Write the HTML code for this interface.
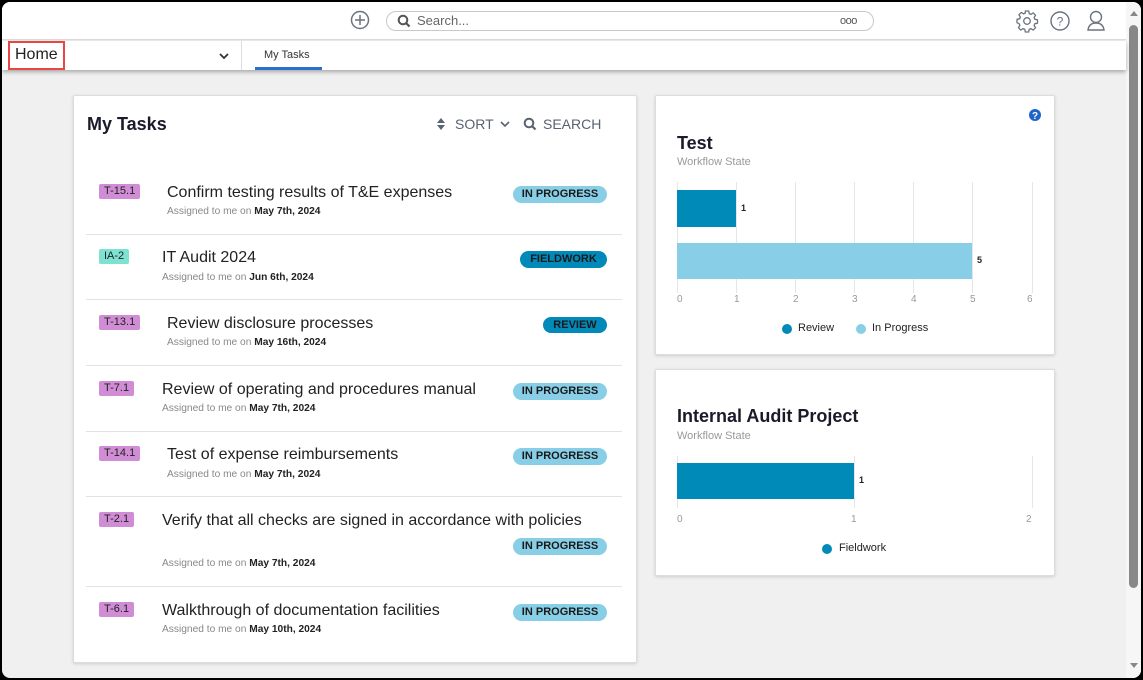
<!DOCTYPE html>
<html><head><meta charset="utf-8">
<style>
*{margin:0;padding:0;box-sizing:border-box}
html,body{width:1143px;height:680px;overflow:hidden;background:#000;font-family:"Liberation Sans",sans-serif}
#frame{position:absolute;left:2px;top:2px;width:1139px;height:676px;background:#f0f0f0;border-radius:8px;overflow:hidden}
.a{position:absolute}
.top{left:0;top:0;width:1124px;height:38px;background:#fff;border-bottom:1px solid #ddd}
.bar2{left:0;top:39px;width:1124px;height:29px;background:#fff;box-shadow:0 2px 4px rgba(0,0,0,0.3)}
.card{background:#fff;border:1px solid #ddd;box-shadow:0 1px 3px rgba(0,0,0,0.15);border-radius:2px}
.badge{position:absolute;height:15px;border-radius:2px;background:#d08cd4;font-size:11px;color:#222;line-height:15px;padding:0 5px}
.title{position:absolute;font-size:16px;color:#222;white-space:nowrap;line-height:20px}
.sub{position:absolute;font-size:10.2px;color:#888;white-space:nowrap}
.sub b{color:#222}
.pill{position:absolute;height:17px;border-radius:9px;font-size:11px;font-weight:bold;color:#1a1a1a;text-align:center;line-height:17px}
.ip{background:#87cee6;width:94px}
.sep{position:absolute;left:12px;width:536px;height:1px;background:#e2e2e2}
.tick{position:absolute;font-size:10px;color:#999}
.grid{position:absolute;width:1px;background:#e6e6e6}
</style></head><body>
<div id="frame">
  <div class="a top"></div>
  <!-- plus icon -->
  <svg class="a" style="left:348px;top:8px" width="20" height="20"><circle cx="10" cy="10" r="8.5" fill="none" stroke="#6a7380" stroke-width="1.5"/><line x1="10" y1="5" x2="10" y2="15" stroke="#6a7380" stroke-width="1.5"/><line x1="5" y1="10" x2="15" y2="10" stroke="#6a7380" stroke-width="1.5"/></svg>
  <div class="a" style="left:384px;top:9px;width:488px;height:20px;border:1px solid #c8c8c8;border-radius:10px;background:#fff"></div>
  <svg class="a" style="left:395px;top:12px" width="14" height="14"><circle cx="6" cy="6" r="4.3" fill="none" stroke="#555" stroke-width="2"/><line x1="9" y1="9" x2="12.5" y2="12.5" stroke="#555" stroke-width="2.2"/></svg>
  <div class="a" style="left:415px;top:11px;font-size:13px;color:#666">Search...</div>
  <div class="a" style="left:838px;top:13px;font-size:11px;color:#555;letter-spacing:-0.5px">ooo</div>
  <!-- right icons -->
  <svg class="a" style="left:1013px;top:7px" width="24" height="24" viewBox="0 0 24 24"><path d="M10.3 2h3.4l.5 2.6 1.8.8 2.2-1.5 2.4 2.4-1.5 2.2.8 1.8 2.6.5v3.4l-2.6.5-.8 1.8 1.5 2.2-2.4 2.4-2.2-1.5-1.8.8-.5 2.6h-3.4l-.5-2.6-1.8-.8-2.2 1.5-2.4-2.4 1.5-2.2-.8-1.8L2 13.7v-3.4l2.6-.5.8-1.8-1.5-2.2 2.4-2.4 2.2 1.5 1.8-.8z" fill="none" stroke="#6a7380" stroke-width="1.3" stroke-linejoin="round"/><circle cx="12" cy="12" r="3.3" fill="none" stroke="#6a7380" stroke-width="1.3"/></svg>
  <svg class="a" style="left:1047px;top:8px" width="22" height="22"><circle cx="11" cy="11" r="9" fill="none" stroke="#6a7380" stroke-width="1.4"/><text x="11" y="15.5" font-size="12" text-anchor="middle" fill="#6a7380" font-family="Liberation Sans">?</text></svg>
  <svg class="a" style="left:1084px;top:7px" width="20" height="24"><circle cx="10" cy="8" r="5.5" fill="none" stroke="#6a7380" stroke-width="1.4"/><path d="M2 21 Q3 14 10 14 Q17 14 18 21 Z" fill="none" stroke="#6a7380" stroke-width="1.4"/></svg>
  <!-- scrollbar -->
  <div class="a" style="left:1124px;top:0;width:15px;height:676px;background:#f6f6f6"></div>
  <div class="a" style="left:1127px;top:23px;width:9px;height:563px;background:#888;border-radius:5px"></div>
  <div class="a" style="left:1128px;top:9px;width:0;height:0;border-left:4px solid transparent;border-right:4px solid transparent;border-bottom:5px solid #888"></div>
  <div class="a" style="left:1128px;top:661px;width:0;height:0;border-left:4px solid transparent;border-right:4px solid transparent;border-top:5px solid #888"></div>

  <div class="a bar2"></div>
  <div class="a" style="left:6px;top:39px;width:57px;height:29px;border:2px solid #e84545"></div>
  <div class="a" style="left:13px;top:44px;font-size:16px;color:#222">Home</div>
  <svg class="a" style="left:216px;top:49px" width="12" height="10"><polyline points="2,3 6,7 10,3" fill="none" stroke="#333" stroke-width="1.8"/></svg>
  <div class="a" style="left:239px;top:39px;width:1px;height:29px;background:#ddd"></div>
  <div class="a" style="left:262px;top:47px;font-size:11px;color:#333">My Tasks</div>
  <div class="a" style="left:253px;top:65px;width:67px;height:3px;background:#2a6fd0"></div>

  <!-- My Tasks card -->
  <div class="a card" style="left:71px;top:93px;width:564px;height:568px">
    <div class="a" style="left:13px;top:18px;font-size:18px;color:#1a1a2a;font-weight:bold">My Tasks</div>
    <svg class="a" style="left:363px;top:22px" width="8" height="12"><polygon points="4,0 8,5 0,5" fill="#5a6370"/><polygon points="0,7 8,7 4,12" fill="#5a6370"/></svg>
    <div class="a" style="left:381px;top:20px;font-size:14px;color:#5a6370">SORT</div>
    <svg class="a" style="left:426px;top:24px" width="10" height="8"><polyline points="1,2 5,6 9,2" fill="none" stroke="#5a6370" stroke-width="1.6"/></svg>
    <svg class="a" style="left:449px;top:21px" width="14" height="14"><circle cx="6" cy="6" r="4.3" fill="none" stroke="#5a6370" stroke-width="2"/><line x1="9" y1="9" x2="12.5" y2="12.5" stroke="#5a6370" stroke-width="2.2"/></svg>
    <div class="a" style="left:469px;top:20px;font-size:14px;color:#5a6370">SEARCH</div>

    <div class="badge" style="left:25px;top:88px">T-15.1</div>
    <div class="title" style="left:93px;top:87px">Confirm testing results of T&amp;E expenses</div>
    <div class="sub" style="left:93px;top:110px">Assigned to me on <b>May 7th, 2024</b></div>
    <div class="pill ip" style="left:439px;top:90px">IN PROGRESS</div>
    <div class="sep" style="top:138px"></div>

    <div class="badge" style="left:25px;top:153px;background:#7de2d2">IA-2</div>
    <div class="title" style="left:88px;top:152px">IT Audit 2024</div>
    <div class="sub" style="left:88px;top:176px">Assigned to me on <b>Jun 6th, 2024</b></div>
    <div class="pill" style="left:446px;top:155px;width:87px;background:#0089b9">FIELDWORK</div>
    <div class="sep" style="top:203px"></div>

    <div class="badge" style="left:25px;top:219px">T-13.1</div>
    <div class="title" style="left:93px;top:218px">Review disclosure processes</div>
    <div class="sub" style="left:93px;top:241px">Assigned to me on <b>May 16th, 2024</b></div>
    <div class="pill" style="left:469px;top:221px;width:64px;height:16px;line-height:16px;background:#0089b9">REVIEW</div>
    <div class="sep" style="top:269px"></div>

    <div class="badge" style="left:25px;top:285px">T-7.1</div>
    <div class="title" style="left:88px;top:284px">Review of operating and procedures manual</div>
    <div class="sub" style="left:88px;top:307px">Assigned to me on <b>May 7th, 2024</b></div>
    <div class="pill ip" style="left:439px;top:287px">IN PROGRESS</div>
    <div class="sep" style="top:335px"></div>

    <div class="badge" style="left:25px;top:350px">T-14.1</div>
    <div class="title" style="left:93px;top:349px">Test of expense reimbursements</div>
    <div class="sub" style="left:93px;top:373px">Assigned to me on <b>May 7th, 2024</b></div>
    <div class="pill ip" style="left:439px;top:352px">IN PROGRESS</div>
    <div class="sep" style="top:400px"></div>

    <div class="badge" style="left:25px;top:416px">T-2.1</div>
    <div class="title" style="left:88px;top:415px">Verify that all checks are signed in accordance with policies</div>
    <div class="pill ip" style="left:439px;top:442px">IN PROGRESS</div>
    <div class="sub" style="left:88px;top:462px">Assigned to me on <b>May 7th, 2024</b></div>
    <div class="sep" style="top:490px"></div>

    <div class="badge" style="left:25px;top:506px">T-6.1</div>
    <div class="title" style="left:88px;top:505px">Walkthrough of documentation facilities</div>
    <div class="sub" style="left:88px;top:528px">Assigned to me on <b>May 10th, 2024</b></div>
    <div class="pill ip" style="left:439px;top:508px">IN PROGRESS</div>
  </div>

  <!-- Chart card 1 -->
  <div class="a card" style="left:653px;top:93px;width:400px;height:260px"></div>
  <svg class="a" style="left:1027px;top:107px" width="12" height="12"><circle cx="6" cy="6" r="6" fill="#1f64c8"/><text x="6" y="10" font-size="10" font-weight="bold" text-anchor="middle" fill="#fff" font-family="Liberation Sans">?</text></svg>
  <div class="a" style="left:675px;top:131px;font-size:18px;font-weight:bold;color:#1a1a2a">Test</div>
  <div class="a" style="left:675px;top:154px;font-size:11px;color:#999">Workflow State</div>
  <div class="grid" style="left:675px;top:180px;height:111px"></div>
  <div class="grid" style="left:734px;top:180px;height:111px"></div>
  <div class="grid" style="left:793px;top:180px;height:111px"></div>
  <div class="grid" style="left:852px;top:180px;height:111px"></div>
  <div class="grid" style="left:911px;top:180px;height:111px"></div>
  <div class="grid" style="left:970px;top:180px;height:111px"></div>
  <div class="grid" style="left:1030px;top:180px;height:111px"></div>
  <div class="a" style="left:675px;top:188px;width:59px;height:37px;background:#008ab8"></div>
  <div class="a" style="left:739px;top:201px;font-size:9px;font-weight:bold;color:#222">1</div>
  <div class="a" style="left:675px;top:241px;width:295px;height:36px;background:#87cee6"></div>
  <div class="a" style="left:975px;top:253px;font-size:9px;font-weight:bold;color:#222">5</div>
  <div class="tick" style="left:675px;top:292px">0</div>
  <div class="tick" style="left:732px;top:292px">1</div>
  <div class="tick" style="left:791px;top:292px">2</div>
  <div class="tick" style="left:850px;top:292px">3</div>
  <div class="tick" style="left:909px;top:292px">4</div>
  <div class="tick" style="left:968px;top:292px">5</div>
  <div class="tick" style="left:1025px;top:292px">6</div>
  <div class="a" style="left:780px;top:322px;width:10px;height:10px;border-radius:5px;background:#008ab8"></div>
  <div class="a" style="left:796px;top:320px;font-size:11px;color:#222">Review</div>
  <div class="a" style="left:854px;top:322px;width:10px;height:10px;border-radius:5px;background:#87cee6"></div>
  <div class="a" style="left:870px;top:320px;font-size:11px;color:#222">In Progress</div>

  <!-- Chart card 2 -->
  <div class="a card" style="left:653px;top:367px;width:400px;height:207px"></div>
  <div class="a" style="left:675px;top:404px;font-size:18px;font-weight:bold;color:#1a1a2a">Internal Audit Project</div>
  <div class="a" style="left:675px;top:428px;font-size:11px;color:#999">Workflow State</div>
  <div class="grid" style="left:675px;top:454px;height:52px"></div>
  <div class="grid" style="left:852px;top:454px;height:52px"></div>
  <div class="grid" style="left:1030px;top:454px;height:52px"></div>
  <div class="a" style="left:675px;top:461px;width:177px;height:36px;background:#008ab8"></div>
  <div class="a" style="left:857px;top:473px;font-size:9px;font-weight:bold;color:#222">1</div>
  <div class="tick" style="left:675px;top:512px">0</div>
  <div class="tick" style="left:849px;top:512px">1</div>
  <div class="tick" style="left:1024px;top:512px">2</div>
  <div class="a" style="left:820px;top:542px;width:10px;height:10px;border-radius:5px;background:#008ab8"></div>
  <div class="a" style="left:837px;top:540px;font-size:11px;color:#222">Fieldwork</div>
</div>
</body></html>
